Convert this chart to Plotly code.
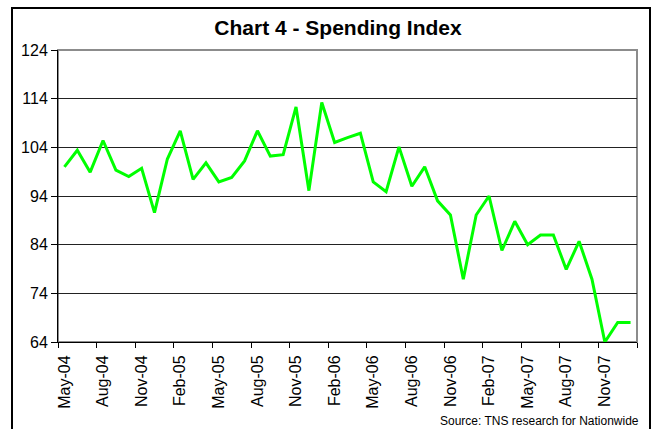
import plotly.graph_objects as go

months = ["May-04", "Jun-04", "Jul-04", "Aug-04", "Sep-04", "Oct-04", "Nov-04", "Dec-04",
          "Jan-05", "Feb-05", "Mar-05", "Apr-05", "May-05", "Jun-05", "Jul-05", "Aug-05",
          "Sep-05", "Oct-05", "Nov-05", "Dec-05", "Jan-06", "Feb-06", "Mar-06", "Apr-06",
          "May-06", "Jun-06", "Jul-06", "Aug-06", "Sep-06", "Oct-06", "Nov-06", "Dec-06",
          "Jan-07", "Feb-07", "Mar-07", "Apr-07", "May-07", "Jun-07", "Jul-07", "Aug-07",
          "Sep-07", "Oct-07", "Nov-07", "Dec-07", "Jan-08"]

spending_index = [100, 103.4, 98.9, 105.4, 99.3, 98.0, 99.7, 90.6, 101.6, 107.4,
                  97.4, 100.8, 96.9, 97.8, 101.2, 107.4, 102.2, 102.5, 112.3, 95.1,
                  113.2, 105.0, 106.0, 106.9, 96.9, 94.9, 104.1, 96.0, 100.0, 93.0,
                  90.1, 76.9, 90.1, 94.0, 82.8, 88.8, 84.0, 86.0, 86.0, 78.9,
                  84.7, 76.9, 64.0, 68.0, 68.0]

y_ticks = [64, 74, 84, 94, 104, 114, 124]
label_every = 3

title_text = "Chart 4 - Spending Index"
source_text = "Source: TNS research for Nationwide"

FONT = "Liberation Sans, Arial, sans-serif"
W, H = 654, 429
L, R, T, B = 58, 17, 50, 87
pw, ph = W - L - R, H - T - B

n = len(months)
label_idx = list(range(0, n, label_every))

fig = go.Figure()
fig.add_trace(go.Scatter(
    x=months, y=spending_index, mode="lines",
    line=dict(color="#00FF00", width=3),
    showlegend=False, hoverinfo="x+y", cliponaxis=True,
))
# invisible trace for tick-mark axis
fig.add_trace(go.Scatter(x=[-0.5, n - 0.5], y=[y_ticks[0], y_ticks[0]], xaxis="x2",
                         mode="markers", marker=dict(opacity=0), showlegend=False,
                         hoverinfo="skip"))

def px_x(p):
    return (p - L) / pw

def px_y(p):
    return (H - B - p) / ph

fig.update_layout(
    width=W, height=H,
    margin=dict(l=L, r=R, t=T, b=B),
    paper_bgcolor="white", plot_bgcolor="white",
    font=dict(family=FONT, color="black"),
    title=dict(text=f"<b>{title_text}</b>", x=338 / W, y=1 - 28 / H,
               xanchor="center", yanchor="middle",
               font=dict(size=21, family=FONT, color="black")),
    xaxis=dict(
        type="category", range=[-0.5, n - 0.5],
        tickmode="array", tickvals=[months[i] for i in label_idx],
        ticktext=[months[i] for i in label_idx],
        tickangle=-90, ticks="outside", ticklen=6, tickcolor="rgba(0,0,0,0)",
        tickfont=dict(size=16, family=FONT, color="black"),
        showgrid=False, showline=True, linecolor="black", linewidth=1,
        zeroline=False, fixedrange=True,
    ),
    xaxis2=dict(
        overlaying="x", anchor="y", side="bottom", type="linear",
        range=[-0.5, n - 0.5],
        tickmode="array", tickvals=[i - 0.5 for i in range(0, n + 1, label_every)],
        ticks="outside", ticklen=5, tickcolor="black", tickwidth=1,
        showticklabels=False, showgrid=False, showline=False, zeroline=False,
    ),
    yaxis=dict(
        range=[y_ticks[0], y_ticks[-1]], tickmode="array", tickvals=y_ticks,
        ticks="outside", ticklen=6, tickcolor="black",
        tickfont=dict(size=16, family=FONT, color="black"),
        showgrid=True, gridcolor="#222222", gridwidth=1,
        showline=True, linecolor="black", linewidth=1, zeroline=False,
    ),
    shapes=[
        dict(type="rect", xref="paper", yref="paper", x0=0, x1=1, y0=0, y1=1,
             line=dict(color="#8c8c8c", width=2), layer="below"),
        dict(type="rect", xref="paper", yref="paper",
             x0=px_x(12), x1=px_x(650), y0=px_y(440), y1=px_y(8),
             line=dict(color="black", width=2)),
    ],
    annotations=[
        dict(text=source_text, xref="paper", yref="paper", x=px_x(641), y=px_y(421),
             xanchor="right", yanchor="middle", showarrow=False,
             font=dict(size=12, family=FONT, color="black")),
    ],
)

fig.write_html("out.html", config={"displayModeBar": False},
               post_script="document.body.style.margin='0';document.body.style.padding='0';")
